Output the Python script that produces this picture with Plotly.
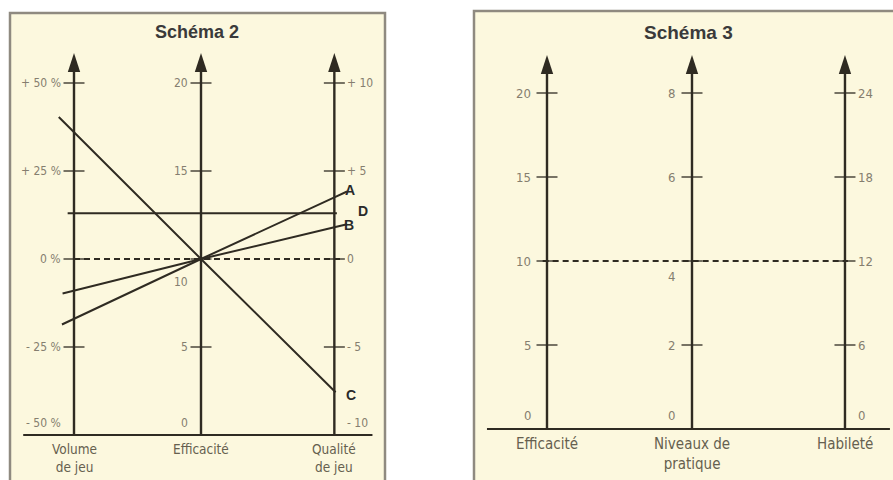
import plotly.graph_objects as go

# ---- Schéma 2 data ----
s2_axis_titles = ["Volume<br>de jeu", "Efficacité", "Qualité<br>de jeu"]
volume_ticks = [-50, -25, 0, 25, 50]
volume_labels = ["- 50 %", "- 25 %", "0 %", "+ 25 %", "+ 50 %"]
eff2_ticks = [0, 5, 10, 15, 20]
eff2_labels = ["0", "5", "10", "15", "20"]
qualite_ticks = [-10, -5, 0, 5, 10]
qualite_labels = ["- 10", "- 5", "0", "+ 5", "+ 10"]

line_names = ["A", "B", "C", "D"]
volume_vals = [-17, -9, 36, 13]
eff2_vals = [10, 10, 10, 12.6]
qualite_vals = [3.5, 1.8, -7.5, 2.6]
s2_ref = [0, 10, 0]  # dashed reference: 0 %, 10, 0

# ---- Schéma 3 data ----
s3_axis_titles = ["Efficacité", "Niveaux de<br>pratique", "Habileté"]
eff3_ticks = [0, 5, 10, 15, 20]
eff3_labels = ["0", "5", "10", "15", "20"]
niveaux_ticks = [0, 2, 4, 6, 8]
niveaux_labels = ["0", "2", "4", "6", "8"]
habilete_ticks = [0, 6, 12, 18, 24]
habilete_labels = ["0", "6", "12", "18", "24"]
s3_ref = [10, 4, 12]

# scales: every axis is mapped onto a common 0-20 vertical scale
s2_scales = [lambda v: 10 + v / 5, lambda v: v, lambda v: 10 + v]
s3_scales = [lambda v: v, lambda v: v * 2.5, lambda v: v * 20 / 24]

CREAM = "#fcf8de"
BORDER = "#8f8a80"
INK = "#2f2b22"
LABEL = "#857e6f"
AXTITLE = "#66604f"
TITLE = "#3a3a3a"
NARROW = "Liberation Sans Narrow, DejaVu Sans Condensed, Arial Narrow, sans-serif"
BOLD = "Liberation Sans, Arial, sans-serif"

W, H = 893, 480
fig = go.Figure()


def px_range(p0, p1, origin, unit):
    return [(p0 - origin) / unit, (p1 - origin) / unit]


def add_axis(xa, ya, xpos, ticks, labels, scale, side, shifts, tip, fsize):
    ys = [scale(v) for v in ticks]
    common = dict(xaxis=xa, yaxis=ya, hoverinfo="skip", showlegend=False)
    fig.add_trace(go.Scatter(x=[xpos, xpos], y=[0, tip - 0.5], mode="lines",
                             line=dict(color=INK, width=2.4), **common))
    fig.add_trace(go.Scatter(x=[xpos], y=[tip], mode="markers",
                             marker=dict(symbol="arrow", size=20, color=INK,
                                         line=dict(width=0)), **common))
    fig.add_trace(go.Scatter(x=[xpos] * (len(ys) - 1), y=ys[1:], mode="markers",
                             marker=dict(symbol="line-ew", size=15,
                                         line=dict(color=INK, width=1.3)), **common))
    for y, t, (dx, dy) in zip(ys, labels, shifts):
        fig.add_annotation(x=xpos, y=y, xref=xa, yref=ya, text=t, showarrow=False,
                           xanchor="right" if side == "left" else "left",
                           xshift=dx, yshift=dy,
                           font=dict(family=NARROW, size=fsize, color=LABEL))


# ---------- Schéma 2 (left panel) ----------
s2_pos = [0, 1, 2.05]
add_axis("x", "y", s2_pos[0], volume_ticks, volume_labels, s2_scales[0], "left",
         [(-11, 12)] + [(-11, 0)] * 4, 21.7, 12)
add_axis("x", "y", s2_pos[1], eff2_ticks, eff2_labels, s2_scales[1], "left",
         [(-11, 12), (-11, 0), (-11, -23), (-11, 0), (-11, 0)], 21.7, 12)
add_axis("x", "y", s2_pos[2], qualite_ticks, qualite_labels, s2_scales[2], "right",
         [(11, 12)] + [(11, 0)] * 4, 21.7, 12)

# baseline
fig.add_trace(go.Scatter(x=[s2_pos[0] - 0.4, s2_pos[2] + 0.3], y=[0, 0], mode="lines",
                         line=dict(color=INK, width=2), xaxis="x", yaxis="y",
                         hoverinfo="skip", showlegend=False))
# dashed reference
ref_y = [f(v) for f, v in zip(s2_scales, s2_ref)]
fig.add_trace(go.Scatter(x=[s2_pos[0], s2_pos[2] + 0.06], y=[ref_y[0], ref_y[2]],
                         mode="lines", line=dict(color=INK, width=2, dash="6px,4px"),
                         xaxis="x", yaxis="y", hoverinfo="skip", showlegend=False))

ext_left = [0.095, 0.09, 0.12, 0.05]
ext_right = [0.1, 0.1, 0.01, 0.02]
label_shift = [(16, 7), (15, 2), (17, -4), (29, 2)]
for i, name in enumerate(line_names):
    ys = [s2_scales[0](volume_vals[i]), s2_scales[1](eff2_vals[i]),
          s2_scales[2](qualite_vals[i])]
    sl = (ys[1] - ys[0]) / (s2_pos[1] - s2_pos[0])
    sr = (ys[2] - ys[1]) / (s2_pos[2] - s2_pos[1])
    xs = [s2_pos[0] - ext_left[i]] + s2_pos + [s2_pos[2] + ext_right[i]]
    yy = [ys[0] - sl * ext_left[i]] + ys + [ys[2] + sr * ext_right[i]]
    fig.add_trace(go.Scatter(x=xs, y=yy, mode="lines", name=name,
                             line=dict(color=INK, width=2), xaxis="x", yaxis="y",
                             showlegend=False))
    fig.add_annotation(x=s2_pos[2], y=ys[2], xref="x", yref="y", text="<b>%s</b>" % name,
                       showarrow=False, xshift=label_shift[i][0], yshift=label_shift[i][1],
                       font=dict(family=BOLD, size=14, color="#2a2a2a"))

for xp, t in zip(s2_pos, s2_axis_titles):
    fig.add_annotation(x=xp, y=0, xref="x", yref="y", text=t, showarrow=False,
                       yanchor="top", yshift=-4,
                       font=dict(family=NARROW, size=13.5, color=AXTITLE))

# ---------- Schéma 3 (right panel) ----------
s3_pos = [0, 1, 2.055]
add_axis("x2", "y2", s3_pos[0], eff3_ticks, eff3_labels, s3_scales[0], "left",
         [(-14, 14)] + [(-14, 0)] * 4, 22.26, 13)
add_axis("x2", "y2", s3_pos[1], niveaux_ticks, niveaux_labels, s3_scales[1], "left",
         [(-15, 14), (-15, 0), (-15, -15), (-15, 0), (-15, 0)], 22.26, 13)
add_axis("x2", "y2", s3_pos[2], habilete_ticks, habilete_labels, s3_scales[2], "right",
         [(11, 14)] + [(11, 0)] * 4, 22.26, 13)

fig.add_trace(go.Scatter(x=[s3_pos[0] - 0.414, s3_pos[2] + 0.31], y=[0, 0], mode="lines",
                         line=dict(color=INK, width=2), xaxis="x2", yaxis="y2",
                         hoverinfo="skip", showlegend=False))
ref3 = [f(v) for f, v in zip(s3_scales, s3_ref)]
fig.add_trace(go.Scatter(x=[s3_pos[0] - 0.03, s3_pos[2] + 0.02], y=[ref3[0], ref3[2]],
                         mode="lines", line=dict(color=INK, width=2, dash="6px,4px"),
                         xaxis="x2", yaxis="y2", hoverinfo="skip", showlegend=False))
for xp, t in zip(s3_pos, s3_axis_titles):
    fig.add_annotation(x=xp, y=0, xref="x2", yref="y2", text=t, showarrow=False,
                       yanchor="top", yshift=-4,
                       font=dict(family=NARROW, size=15, color=AXTITLE))

# ---------- frames and titles ----------
fig.add_shape(type="rect", xref="paper", yref="paper", x0=10 / W, x1=385 / W,
              y0=-0.02, y1=1 - 13 / H, line=dict(color=BORDER, width=2.5),
              fillcolor=CREAM, layer="below")
fig.add_shape(type="rect", xref="paper", yref="paper", x0=474 / W, x1=1.02,
              y0=-0.02, y1=1 - 11 / H, line=dict(color=BORDER, width=2.5),
              fillcolor=CREAM, layer="below")
fig.add_annotation(x=197 / W, y=1 - 32 / H, xref="paper", yref="paper",
                   text="<b>Schéma 2</b>", showarrow=False,
                   xanchor="center", yanchor="middle",
                   font=dict(family=BOLD, size=18, color=TITLE))
fig.add_annotation(x=688 / W, y=1 - 33 / H, xref="paper", yref="paper",
                   text="<b>Schéma 3</b>", showarrow=False,
                   xanchor="center", yanchor="middle",
                   font=dict(family=BOLD, size=19, color=TITLE))

hidden = dict(visible=False, fixedrange=True)
fig.update_layout(
    width=W, height=H,
    margin=dict(l=0, r=0, t=0, b=0),
    paper_bgcolor="white",
    plot_bgcolor="rgba(0,0,0,0)",
    showlegend=False,
    xaxis=dict(domain=[10 / W, 386 / W], range=px_range(10, 386, 74, 127), **hidden),
    yaxis=dict(domain=[0, 1], range=[(435 - 480) / 17.6, 435 / 17.6], **hidden),
    xaxis2=dict(domain=[474 / W, 1], range=px_range(474, 893, 547, 145),
                anchor="y2", **hidden),
    yaxis2=dict(domain=[0, 1], range=[(429 - 480) / 16.8, 429 / 16.8],
                anchor="x2", **hidden),
)

fig.write_html("out.html", config={"displayModeBar": False},
               post_script="document.body.style.margin='0';")
